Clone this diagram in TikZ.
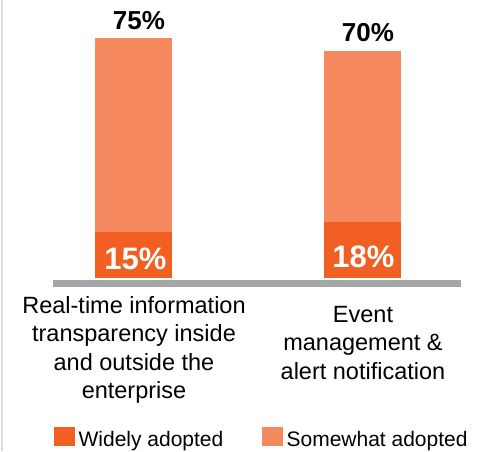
\documentclass[tikz,border=0pt]{standalone}
\usepackage{fontspec}
\setmainfont{Liberation Sans}
\usetikzlibrary{positioning}
\definecolor{widely}{HTML}{F15F22}
\definecolor{somewhat}{HTML}{F68A5E}
\definecolor{axisgray}{HTML}{A6A6A6}
\definecolor{framegray}{HTML}{DDDDDD}
\begin{document}
\begin{tikzpicture}[
  x=1pt, y=-1pt,
  catlabel/.style={align=center, inner sep=0pt, anchor=north, font=\fontsize{23.5}{28.5}\selectfont},
  toplabel/.style={inner sep=0pt, anchor=base, font=\fontsize{26}{30}\selectfont\bfseries},
  inlabel/.style={inner sep=0pt, anchor=base, text=white, font=\fontsize{31}{36}\selectfont\bfseries},
  key/.style={rectangle, minimum width=21pt, minimum height=19pt, inner sep=0pt, anchor=north west},
  keylabel/.style={inner sep=0pt, font=\fontsize{21}{25}\selectfont}
]
\useasboundingbox (0,0) rectangle (478,451);
\fill[framegray] (1,0) rectangle (3,451);

% bars
\fill[somewhat] (95,38) rectangle (172,232);
\fill[widely] (95,232) rectangle (172,278);
\fill[somewhat] (324,51) rectangle (401,222);
\fill[widely] (324,222) rectangle (401,278);
\fill[axisgray] (53,280) rectangle (461,287);

\node[toplabel] (top1) at (139,29) {75\%};
\node[toplabel] (top2) at (368,41) {70\%};
\node[inlabel] (in1) at (135.5,269) {15\%};
\node[inlabel] (in2) at (363.5,267) {18\%};

\node[catlabel] (cat1) at (134,296) {Real-time information\\transparency inside\\and outside the\\enterprise};
\node[catlabel] (cat2) at (363,306) {Event\\management \&\\alert notification};

% legend
\node[key, fill=widely] (keyw) at (54,427) {};
\node[keylabel, right=3pt of keyw.south east, anchor=base west] (keywtext) {Widely adopted};
\node[key, fill=somewhat] (keys) at (262,427) {};
\node[keylabel, right=3pt of keys.south east, anchor=base west] (keystext) {Somewhat adopted};

\end{tikzpicture}
\end{document}
